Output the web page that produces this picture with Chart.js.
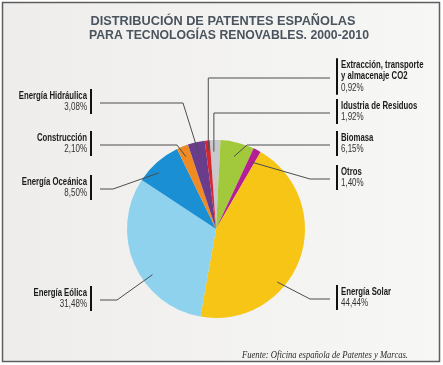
<!DOCTYPE html>
<html>
<head>
<meta charset="utf-8">
<script src="https://cdn.jsdelivr.net/npm/chart.js@4/dist/chart.umd.min.js"></script>
<style>
    html, body { margin: 0; padding: 0; background: #ffffff; }
    #wrap { width: 443px; height: 365px; }
</style>
</head>
<body>
<div id="wrap"><canvas id="pieChart" width="443" height="365"></canvas></div>
<script>
// data, in drawing order (clockwise from the top)
const categories = [
    'Idustria de Residuos',
    'Biomasa',
    'Otros',
    'Energía Solar',
    'Energía Eólica',
    'Energía Oceánica',
    'Construcción',
    'Energía Hidráulica',
    ['Extracción, transporte', 'y almacenaje CO2']
]
const values = [1.92, 6.15, 1.40, 44.44, 31.48, 8.50, 2.10, 3.08, 0.92]
const valueLabels = ['1,92%', '6,15%', '1,40%', '44,44%', '31,48%', '8,50%', '2,10%', '3,08%', '0,92%']
const sliceColors = ['#c9c9cd', '#a2c93c', '#b51f94', '#f6c515', '#8fd2ee', '#1a8fd3', '#f08a22', '#6a3d8c', '#d6262e']

const titleLines = ['DISTRIBUCIÓN DE PATENTES ESPAÑOLAS', 'PARA TECNOLOGÍAS RENOVABLES. 2000-2010']
const sourceText = 'Fuente: Oficina española de Patentes y Marcas.'

// where each callout sits (index matches the data above)
// t = position along the slice, r = fraction of radius, y = leader line height
// elbow = x where the leader bends (null = straight down from the slice)
const callouts = [
    { side: 'right', y: 113, elbow: null, t: 0.35, r: 0.87 },
    { side: 'right', y: 145, elbow: 247, t: 0.5, r: 0.84 },
    { side: 'right', y: 179, elbow: 310, t: 0.5, r: 0.85 },
    { side: 'right', y: 299, elbow: 310, t: 0.63, r: 0.91 },
    { side: 'left', y: 300, elbow: 117, t: 0.39, r: 0.88 },
    { side: 'left', y: 189, elbow: 113, t: 0.36, r: 0.9 },
    { side: 'left', y: 145, elbow: 177, t: 0.45, r: 0.88 },
    { side: 'left', y: 103, elbow: 183, t: 0.5, r: 0.87 },
    { side: 'right', y: 78, elbow: null, t: 0.5, r: 0.88 }
]

function squeezeText(ctx, text, x, y, squeeze) {
    let w = ctx.measureText(text).width
    ctx.fillText(text, x, y, w * squeeze)
}

const decorPlugin = {
    id: 'decor',
    beforeDraw(chart) {
        const ctx = chart.ctx
        ctx.save()
        let grad = ctx.createLinearGradient(0, 0, 443, 0)
        grad.addColorStop(0, '#eeedeb')
        grad.addColorStop(1, '#f7f7f6')
        ctx.fillStyle = grad
        ctx.fillRect(3, 3, 436, 358)
        ctx.strokeStyle = '#5e5e5e'
        ctx.lineWidth = 1.5
        ctx.strokeRect(2.5, 2.5, 437, 359)
        ctx.restore()
    },
    afterDraw(chart) {
        const ctx = chart.ctx
        const arcs = chart.getDatasetMeta(0).data
        ctx.save()

        // title
        ctx.fillStyle = '#4a545e'
        ctx.font = 'bold 13px "Liberation Sans", Arial, sans-serif'
        ctx.textAlign = 'center'
        ctx.textBaseline = 'middle'
        ctx.fillText(titleLines[0], 223, 21, 265)
        ctx.fillText(titleLines[1], 229, 35, 280)

        // leader lines and labels
        const leftBar = 91
        const rightBar = 337
        const lineH = 11.5
        callouts.forEach((c, i) => {
            const p = arcs[i].getProps(['x', 'y', 'startAngle', 'endAngle', 'outerRadius'], true)
            let a = p.startAngle + c.t * (p.endAngle - p.startAngle)
            let ax = p.x + Math.cos(a) * p.outerRadius * c.r
            let ay = p.y + Math.sin(a) * p.outerRadius * c.r
            let ex = c.elbow === null ? ax : c.elbow
            let endX = c.side === 'left' ? 100 : 330

            ctx.strokeStyle = '#4d4d4d'
            ctx.lineWidth = 1
            ctx.beginPath()
            ctx.moveTo(ax, ay)
            ctx.lineTo(ex, c.y)
            ctx.lineTo(endX, c.y)
            ctx.stroke()

            let nameLines = Array.isArray(categories[i]) ? categories[i] : [categories[i]]
            let lines = nameLines.length + 1
            let blockH = lines * lineH
            let top = c.y - 1.5 - blockH / 2

            // vertical bar next to the text
            let barX = c.side === 'left' ? leftBar : rightBar
            ctx.strokeStyle = '#111111'
            ctx.lineWidth = 2
            ctx.beginPath()
            ctx.moveTo(barX, top - 1)
            ctx.lineTo(barX, top + blockH + 1)
            ctx.stroke()

            let tx = c.side === 'left' ? leftBar - 4 : rightBar + 4
            ctx.textAlign = c.side === 'left' ? 'right' : 'left'
            ctx.textBaseline = 'middle'
            ctx.fillStyle = '#1b1b1b'
            ctx.font = 'bold 10.5px "Liberation Sans", Arial, sans-serif'
            nameLines.forEach((t, k) => {
                squeezeText(ctx, t, tx, top + lineH * (k + 0.5), 0.74)
            })
            ctx.fillStyle = '#333333'
            ctx.font = '10px "Liberation Sans", Arial, sans-serif'
            squeezeText(ctx, valueLabels[i], tx, top + lineH * (nameLines.length + 0.5), 0.8)
        })

        // source note
        ctx.fillStyle = '#2b2b2b'
        ctx.font = 'italic 11px "Liberation Serif", "Times New Roman", serif'
        ctx.textAlign = 'left'
        ctx.textBaseline = 'alphabetic'
        ctx.fillText(sourceText, 242, 358, 166)

        ctx.restore()
    }
}

document.addEventListener('DOMContentLoaded', function() {
    let pieData = {
        labels: categories,
        datasets: [{
            data: values,
            backgroundColor: sliceColors,
            borderWidth: 0
        }]
    }

    let pieOptions = {
        responsive: false,
        animation: false,
        rotation: -4,
        layout: {
            padding: { left: 127, right: 138, top: 140, bottom: 47 }
        },
        plugins: {
            legend: { display: false },
            tooltip: { enabled: false }
        }
    }

    let pieChart = new Chart(document.getElementById('pieChart'), {
        type: 'pie',
        data: pieData,
        options: pieOptions,
        plugins: [decorPlugin]
    })
})
</script>
</body>
</html>
